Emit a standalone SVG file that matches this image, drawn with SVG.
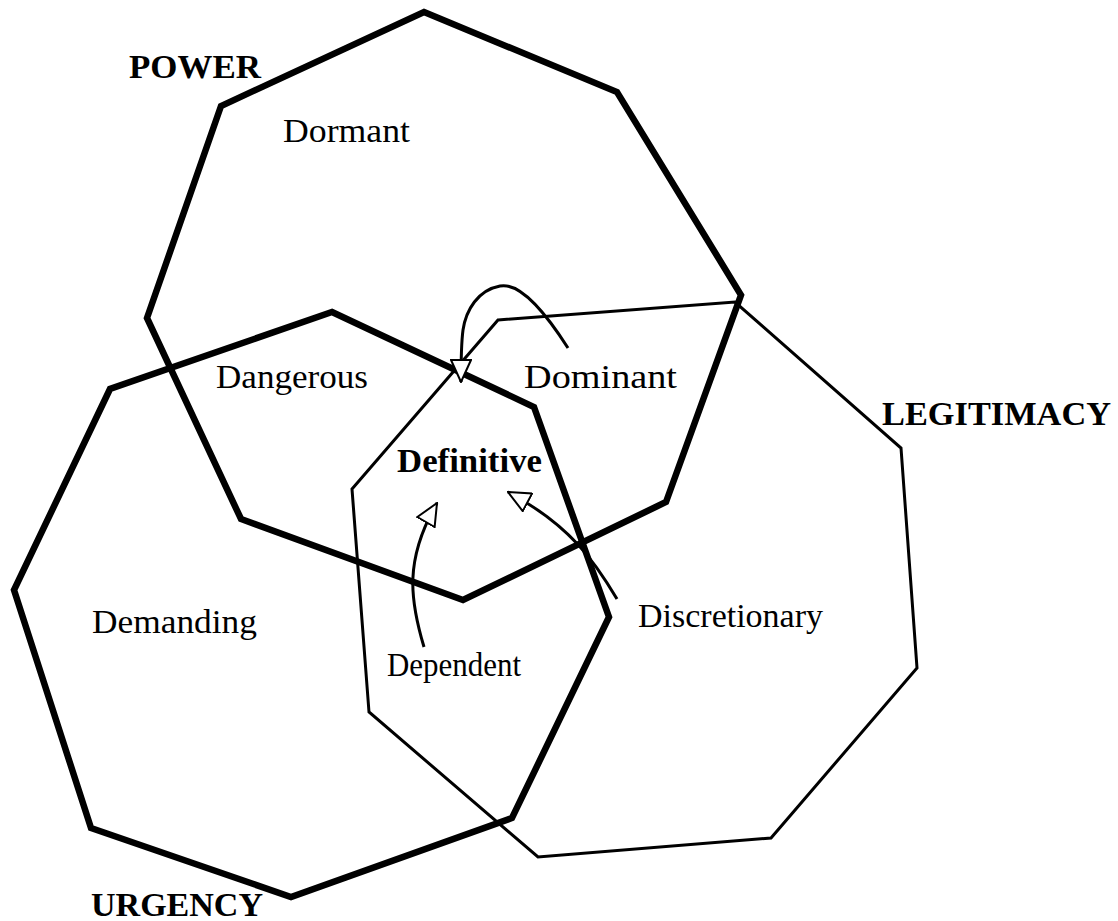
<svg xmlns="http://www.w3.org/2000/svg" width="1118" height="921" viewBox="0 0 1118 921">
  <style>
    .thick { fill: none; stroke: #000; stroke-width: 6.5; stroke-linejoin: miter; }
    .thin { fill: none; stroke: #000; stroke-width: 3; stroke-linejoin: miter; }
    .lbl { font-family: "Liberation Serif", "Times New Roman", serif; font-size: 34px; fill: #000; }
    .head { font-family: "Liberation Serif", "Times New Roman", serif; font-size: 34px; font-weight: bold; fill: #000; }
    .link { fill: none; stroke: #000; stroke-width: 3; }
  </style>
  <defs>
    <marker id="hollow" viewBox="0 0 24 22" refX="23" refY="11" markerWidth="24" markerHeight="22" markerUnits="userSpaceOnUse" orient="auto">
      <path d="M1,1 L23,11 L1,21 Z" fill="#fff" stroke="#000" stroke-width="2"/>
    </marker>
  </defs>

  <rect width="1118" height="921" fill="#fff"/>

  <g id="legitimacy">
    <polygon class="thin" points="498,320 735,302 901,448 917,668 771,838 538,857 369,712 352,489"/>
    <text class="head" x="882" y="425" textLength="229" lengthAdjust="spacingAndGlyphs">LEGITIMACY</text>
  </g>

  <g id="power">
    <polygon class="thick" points="424,12 617,92 741,295 666,502 463,600 241,519 147,318 221,106"/>
    <text class="head" x="129" y="78" textLength="132" lengthAdjust="spacingAndGlyphs">POWER</text>
  </g>

  <g id="urgency">
    <polygon class="thick" points="332,312 534,407 609,617 512,818 291,897 91,828 14,590 110,389"/>
    <text class="head" x="91" y="916" textLength="172" lengthAdjust="spacingAndGlyphs">URGENCY</text>
  </g>

  <g id="dormant"><text class="lbl" x="283" y="142" textLength="127" lengthAdjust="spacingAndGlyphs">Dormant</text></g>
  <g id="dangerous"><text class="lbl" x="216" y="388" textLength="152" lengthAdjust="spacingAndGlyphs">Dangerous</text></g>
  <g id="dominant"><text class="lbl" x="524" y="388" textLength="153" lengthAdjust="spacingAndGlyphs">Dominant</text></g>
  <g id="definitive"><text class="head" x="397" y="472" textLength="145" lengthAdjust="spacingAndGlyphs">Definitive</text></g>
  <g id="demanding"><text class="lbl" x="92" y="633" textLength="165" lengthAdjust="spacingAndGlyphs">Demanding</text></g>
  <g id="discretionary"><text class="lbl" x="638" y="627" textLength="185" lengthAdjust="spacingAndGlyphs">Discretionary</text></g>
  <g id="dependent"><text class="lbl" x="387" y="676" textLength="134" lengthAdjust="spacingAndGlyphs">Dependent</text></g>

  <g id="connectors">
    <path class="link" d="M568,348 C545,312 520,282 500,286 C478,290 466,310 463,330 C461,345 461,355 461,382" marker-end="url(#hollow)"/>
    <path class="link" d="M424,647 C410,600 404,560 437,503" marker-end="url(#hollow)"/>
    <path class="link" d="M617,599 C595,562 570,525 508,492" marker-end="url(#hollow)"/>
  </g>
</svg>
